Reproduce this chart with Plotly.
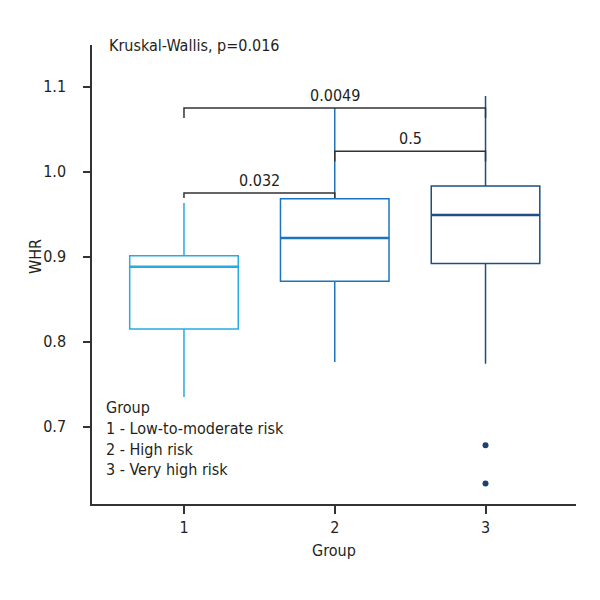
import plotly.graph_objects as go

groups = [1, 2, 3]
group_labels = ["1", "2", "3"]
lower_whisker = [0.735, 0.776, 0.774]
q1 = [0.815, 0.871, 0.892]
median = [0.888, 0.922, 0.949]
q3 = [0.901, 0.968, 0.983]
upper_whisker = [0.963, 1.075, 1.089]
outlier_group = [3, 3]
outlier_values = [0.678, 0.633]
colors = ["#29abe2", "#1c75bc", "#1f4e80"]

bracket_from = [1, 2, 1]
bracket_to = [2, 3, 3]
bracket_y = [0.975, 1.024, 1.075]
bracket_leg = [0.969, 1.012, 1.063]
bracket_text = ["0.032", "0.5", "0.0049"]

FONT = "DejaVu Sans Condensed, DejaVu Sans, sans-serif"
TXT = "#231f20"

fig = go.Figure()
for i, g in enumerate(groups):
    fig.add_trace(go.Box(
        x=[g], q1=[q1[i]], median=[median[i]], q3=[q3[i]],
        lowerfence=[lower_whisker[i]], upperfence=[upper_whisker[i]],
        width=0.72, whiskerwidth=0, fillcolor="rgba(0,0,0,0)",
        line=dict(color=colors[i], width=1.5), boxpoints=False,
        showlegend=False, hoverinfo="skip"))
    # thicker median line
    fig.add_trace(go.Scatter(
        x=[g - 0.36, g + 0.36], y=[median[i], median[i]], mode="lines",
        line=dict(color=colors[i], width=2.5), showlegend=False, hoverinfo="skip"))

fig.add_trace(go.Scatter(
    x=outlier_group, y=outlier_values, mode="markers",
    marker=dict(color="#1f3f70", size=6), showlegend=False, hoverinfo="skip"))

for a, b, y, leg, t in zip(bracket_from, bracket_to, bracket_y, bracket_leg, bracket_text):
    fig.add_trace(go.Scatter(
        x=[a, a, b, b], y=[leg, y, y, leg], mode="lines",
        line=dict(color="#333333", width=1.5), showlegend=False, hoverinfo="skip"))
    fig.add_annotation(x=(a + b) / 2, y=y, text=t, showarrow=False,
                       yanchor="bottom", yshift=1, font=dict(size=16, color=TXT, family=FONT))

fig.add_annotation(xref="paper", yref="paper", x=(107 - 92) / 484, y=1.0, text="Kruskal-Wallis, p=0.016",
                   xanchor="left", yanchor="middle", showarrow=False,
                   font=dict(size=16, color=TXT, family=FONT))
fig.add_annotation(xref="paper", yref="paper", x=(104 - 92) / 484, y=(504 - 396) / 459,
                   text="Group<br>1 - Low-to-moderate risk<br>2 - High risk<br>3 - Very high risk",
                   xanchor="left", yanchor="top", align="left", showarrow=False,
                   font=dict(size=16, color=TXT, family=FONT))
fig.add_annotation(xref="paper", yref="paper", x=0.5, y=0, yshift=-46, text="Group",
                   xanchor="center", yanchor="middle", showarrow=False,
                   font=dict(size=16, color=TXT, family=FONT))
fig.add_annotation(xref="paper", yref="paper", x=0, xshift=-57, y=(504 - 257) / 459, text="WHR",
                   textangle=-90, xanchor="center", yanchor="middle", showarrow=False,
                   font=dict(size=16, color=TXT, family=FONT))

fig.update_layout(
    width=600, height=600,
    margin=dict(l=84, r=32, t=37, b=104),
    paper_bgcolor="white", plot_bgcolor="white",
    font=dict(family=FONT, size=16, color=TXT),
    xaxis=dict(range=[0.39, 3.60], tickvals=groups, ticktext=group_labels,
               showgrid=False, zeroline=False, showline=True, linecolor="#333333", linewidth=1.5,
               ticks="outside", ticklen=8, tickwidth=1.5, tickcolor="#333333",
               tickfont=dict(size=16, color=TXT)),
    yaxis=dict(range=[0.609, 1.149], tickvals=[0.7, 0.8, 0.9, 1.0, 1.1],
               ticktext=["0.7", "0.8", "0.9", "1.0", "1.1"],
               showgrid=False, zeroline=False, showline=True, linecolor="#333333", linewidth=1.5,
               ticks="outside", ticklen=7, tickwidth=1.5, tickcolor="#333333",
               ticklabelstandoff=14, tickfont=dict(size=16, color=TXT)),
)

fig.write_html("out.html")
